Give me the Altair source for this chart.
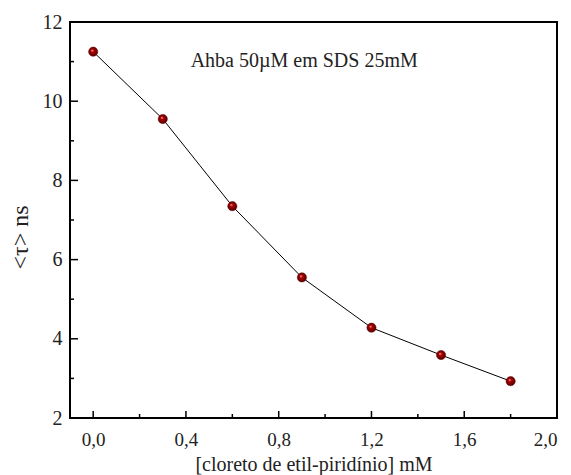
import altair as alt
import pandas as pd

# data
conc = [0.0, 0.3, 0.6, 0.9, 1.2, 1.5, 1.8]
tau = [11.25, 9.55, 7.35, 5.55, 4.28, 3.59, 2.93]

x_major = [0.0, 0.4, 0.8, 1.2, 1.6, 2.0]
x_minor = [0.2, 0.6, 1.0, 1.4, 1.8]
y_major = [2, 4, 6, 8, 10, 12]
y_minor = [3, 5, 7, 9, 11]

label_text = "Ahba 50\u00b5M em SDS 25mM"
label_x = 0.91
label_y = 11.02

FONT = "Liberation Serif"
W, H = 487, 396
XT = "[cloreto de etil-piridínio] mM"
YT = "<\u03c4> ns"

df = pd.DataFrame({"c": conc, "t": tau})
xs = alt.Scale(domain=[-0.1, 2.0], nice=False, zero=False)
ys = alt.Scale(domain=[2, 12], nice=False, zero=False)

xaxis = alt.Axis(values=x_major, ticks=False, tickSize=0, domain=False, grid=False,
                 labelExpr="replace(format(datum.value, '.1f'), '.', ',')",
                 labelFont=FONT, labelFontSize=19, labelColor="#222",
                 labelPadding=12, title=XT,
                 titleFont=FONT, titleFontSize=20, titleFontWeight="normal",
                 titleColor="#222", titlePadding=5)
yaxis = alt.Axis(values=y_major, ticks=False, tickSize=0, domain=False, grid=False,
                 labelFont=FONT, labelFontSize=20, labelColor="#222",
                 labelPadding=8, title=YT,
                 titleFont=FONT, titleFontSize=24, titleFontWeight="normal",
                 titleColor="#222", titleAngle=-90, titleX=-50, titleY=215,
                 titleAlign="center", titleBaseline="middle")

X = alt.X("c:Q", scale=xs, axis=xaxis, title=XT)
Y = alt.Y("t:Q", scale=ys, axis=yaxis, title=YT)

base = alt.Chart(df)

line = base.mark_line(color="black", strokeWidth=1).encode(x=X, y=Y)

grad = {
    "gradient": "radial",
    "x1": 0.38, "y1": 0.35, "r1": 0.0,
    "x2": 0.5, "y2": 0.5, "r2": 0.55,
    "stops": [
        {"offset": 0.0, "color": "#ffc8c8"},
        {"offset": 0.3, "color": "#b00000"},
        {"offset": 1.0, "color": "#4a0000"},
    ],
}

pts = base.mark_point(filled=True, size=85, opacity=1).encode(
    x=X, y=Y,
    fill=alt.value(grad),
    stroke=alt.value("#5a0000"),
    strokeWidth=alt.value(0.5),
    shape=alt.value("circle"),
)

def xticks(vals, length):
    return alt.Chart(pd.DataFrame({"c": vals})).mark_rule(color="black", strokeWidth=1.5).encode(
        x=X, y=alt.value(H), y2=alt.value(H - length))

def yticks(vals, length):
    return alt.Chart(pd.DataFrame({"t": vals})).mark_rule(color="black", strokeWidth=1.5).encode(
        y=Y, x=alt.value(0), x2=alt.value(length))

txt = alt.Chart(pd.DataFrame({"c": [label_x], "t": [label_y], "s": [label_text]})).mark_text(
    font=FONT, fontSize=20, color="#222", align="center", baseline="middle"
).encode(x=X, y=Y, text="s:N")

chart = alt.layer(
    line, xticks(x_major, 7), xticks(x_minor, 4), yticks(y_major, 8), yticks(y_minor, 4),
    pts, txt
).properties(
    width=W, height=H,
    autosize=alt.AutoSizeParams(type="none"),
    padding={"left": 70, "top": 22, "right": 14, "bottom": 57},
    background="white",
).configure_view(stroke="black", strokeWidth=2)

chart.save("out.html", embed_options={"renderer": "svg", "actions": False})
